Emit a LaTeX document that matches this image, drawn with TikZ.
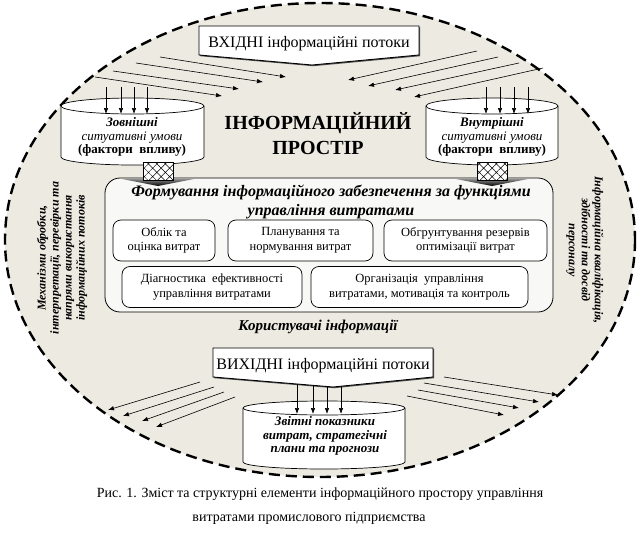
\documentclass[tikz,border=0pt]{standalone}
\usepackage{fontspec}
\setmainfont{Liberation Serif}
\usetikzlibrary{arrows.meta, patterns.meta, shadows}

\definecolor{spacebg}{HTML}{ECEAE1}
\definecolor{boxbg}{HTML}{F8F8F6}

\begin{document}
\begin{tikzpicture}[x=1pt, y=-1pt, every node/.style={outer sep=0pt, align=center},
    flow/.style={-{Latex[length=6pt, width=4.5pt]}, line width=0.6pt},
    func/.style={draw, rounded corners=8pt, fill=white, line width=0.7pt, minimum height=41pt, font=\fontsize{12.5}{14.5}\selectfont},
    streambox/.style={minimum width=220pt, minimum height=29pt, font=\fontsize{16}{18}\selectfont},
    store/.style={draw, fill=white, line width=0.7pt},
    hatchbox/.style={draw, line width=0.7pt, preaction={fill=white}, pattern={Hatch[angle=45, distance=6pt, line width=0.5pt]}},
    sidetext/.style={font=\fontsize{12}{13}\selectfont\bfseries\itshape}]
    \useasboundingbox (0,0) rectangle (641,533);
    \fill[white] (0,0) rectangle (641,533);
    % information space
    \draw[fill=spacebg, line width=2.4pt, dash pattern=on 11pt off 6pt] (320,240) ellipse [x radius=315, y radius=237];

    % input flows
    \node[streambox](input) at (309,40.5) {};
    \coordinate (input_tip) at (312,65);
    \draw[fill=white, line width=0.9pt, drop shadow={shadow xshift=1.2pt, shadow yshift=-1.2pt, fill=black!70, opacity=1}]
        (input.north west) -- (input.north east) -- (input.south east) -- (input_tip) -- (input.south west) -- cycle;
    \node[font=\fontsize{16}{18}\selectfont](input_text) at (309,44) {ВХІДНІ інформаційні потоки};

    \coordinate (l1s) at (160,57);  \coordinate (l1e) at (286,77);
    \coordinate (l2s) at (136,63);  \coordinate (l2e) at (263,82);
    \coordinate (l3s) at (113,71);  \coordinate (l3e) at (239,89);
    \coordinate (l4s) at (95,77);   \coordinate (l4e) at (222,96);
    \coordinate (r1s) at (477,51);  \coordinate (r1e) at (348,80);
    \coordinate (r2s) at (498,57);  \coordinate (r2e) at (368,86);
    \coordinate (r3s) at (519,63);  \coordinate (r3e) at (395,90);
    \coordinate (r4s) at (543,68);  \coordinate (r4e) at (414,97);
    \foreach \a in {l1,l2,l3,l4,r1,r2,r3,r4}
        \draw[flow] (\a s) -- (\a e);

    \node[font=\fontsize{20}{25}\selectfont\bfseries](space) at (318,134) {ІНФОРМАЦІЙНИЙ\\ПРОСТІР};

    % external and internal conditions
    \draw[store] (61,106) -- (61,157) arc[start angle=180, end angle=0, x radius=71.5, y radius=8]
        -- (204,106) arc[start angle=0, end angle=-180, x radius=71.5, y radius=8] -- cycle;
    \draw[line width=0.7pt] (61,106) arc[start angle=180, end angle=0, x radius=71.5, y radius=8];
    \node[font=\fontsize{13}{13.5}\selectfont](outer) at (132,137)
        {\textbf{\textit{Зовнішні}}\\\textit{ситуативні умови}\\\textbf{(фактори\ \ впливу)}};

    \draw[store] (426,106) -- (426,157) arc[start angle=180, end angle=0, x radius=66, y radius=8]
        -- (558,106) arc[start angle=0, end angle=-180, x radius=66, y radius=8] -- cycle;
    \draw[line width=0.7pt] (426,106) arc[start angle=180, end angle=0, x radius=66, y radius=8];
    \node[font=\fontsize{13}{13.5}\selectfont](inner) at (492,137)
        {\textbf{\textit{Внутрішні}}\\\textit{ситуативні умови}\\\textbf{(фактори\ \ впливу)}};

    \foreach \x in {106,121,134,147,486,500,514,528}
        \draw[flow] (\x,87) -- (\x,114);

    % cost management functions
    \node[draw, rounded corners=15pt, fill=boxbg, line width=0.8pt, minimum width=448pt, minimum height=134pt](forming) at (329,245) {};
    \node[font=\fontsize{16}{19}\selectfont\bfseries\itshape](forming_title) at (331,202)
        {Формування інформаційного забезпечення за функціями\\управління витратами};
    \node[func, minimum width=102pt](accounting) at (164,240.5) {Облік та\\оцінка витрат};
    \node[func, minimum width=145pt](planning) at (300.5,240.5) {Планування та\\нормування витрат};
    \node[func, minimum width=163pt](reserves) at (465.5,240.5) {Обгрунтування резервів\\оптимізації витрат};
    \node[func, minimum width=180pt](diagnostics) at (212,287) {Діагностика\ \ ефективності\\управління витратами};
    \node[func, minimum width=217pt](organization) at (419.5,287) {Організація\ \ управління\\витратами, мотивація та контроль};

    \shade[top color=black!45, bottom color=black] (122,179) -- (194,179) -- (158,186) -- cycle;
    \draw[hatchbox] (143,162) rectangle (173,180);
    \shade[top color=black!45, bottom color=black] (456,179) -- (528,179) -- (492,186) -- cycle;
    \draw[hatchbox] (477,162) rectangle (507,180);

    \node[font=\fontsize{15}{17}\selectfont\bfseries\itshape](users) at (318,327) {Користувачі інформації};

    \node[sidetext, rotate=90](mechanisms) at (62,258)
        {Механізми обробки,\\інтерпретації, перевірки та\\напрями використання\\інформаційних потоків};
    \node[sidetext, rotate=-90](staff) at (585,250)
        {Інформаційна кваліфікація,\\здібності та досвід\\персоналу};

    % output flows
    \node[streambox](output) at (323,362.5) {};
    \coordinate (output_tip) at (333,387);
    \draw[fill=white, line width=0.9pt, drop shadow={shadow xshift=1.2pt, shadow yshift=-1.2pt, fill=black!70, opacity=1}]
        (output.north west) -- (output.north east) -- (output.south east) -- (output_tip) -- (output.south west) -- cycle;
    \node[font=\fontsize{16}{18}\selectfont](output_text) at (323,366) {ВИХІДНІ інформаційні потоки};

    \coordinate (b1s) at (200,382);  \coordinate (b1e) at (108,410);
    \coordinate (b2s) at (214,387);  \coordinate (b2e) at (123,416);
    \coordinate (b3s) at (224,392);  \coordinate (b3e) at (142,421);
    \coordinate (b4s) at (235,397);  \coordinate (b4e) at (156,427);
    \coordinate (c1s) at (444,377);  \coordinate (c1e) at (558,395);
    \coordinate (c2s) at (424,383);  \coordinate (c2e) at (539,402);
    \coordinate (c3s) at (418,390);  \coordinate (c3e) at (519,408);
    \coordinate (c4s) at (407,396);  \coordinate (c4e) at (504,415);
    \foreach \a in {b1,b2,b3,b4,c1,c2,c3,c4}
        \draw[flow] (\a s) -- (\a e);

    \draw[store] (243,408) -- (243,462) arc[start angle=180, end angle=0, x radius=81, y radius=7]
        -- (405,408) arc[start angle=0, end angle=-180, x radius=81, y radius=7] -- cycle;
    \draw[line width=0.7pt] (243,408) arc[start angle=180, end angle=0, x radius=81, y radius=7];
    \node[font=\fontsize{13}{13.5}\selectfont\bfseries\itshape](reports) at (325,436)
        {Звітні показники\\витрат, стратегічні\\плани та прогнози};

    \foreach \x/\y in {297/384,313/385.3,327/386.5,341/386.2}
        \draw[flow] (\x,\y) -- (\x,414);

    % caption
    \node[font=\fontsize{14}{16}\selectfont](caption1) at (320,494)
        {Рис. 1. Зміст та структурні елементи інформаційного простору управління};
    \node[font=\fontsize{14}{16}\selectfont](caption2) at (309,518)
        {витратами промислового підприємства};
\end{tikzpicture}
\end{document}
